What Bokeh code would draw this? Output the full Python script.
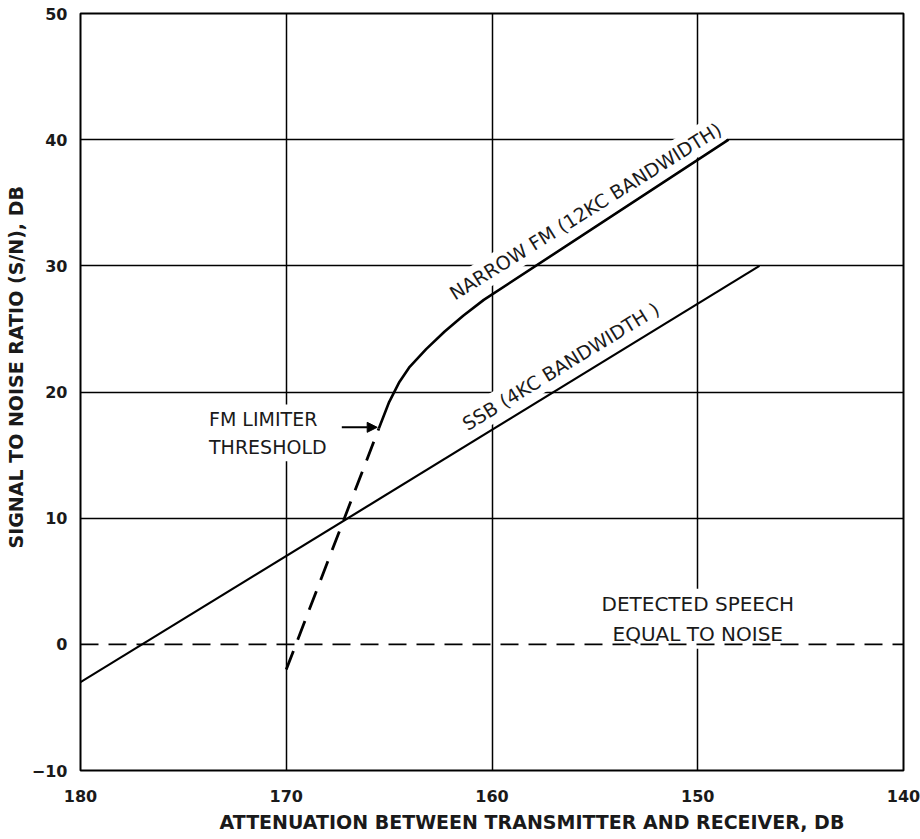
from bokeh.plotting import figure
from bokeh.models import Range1d, FixedTicker, Label, Arrow, NormalHead, Title
from bokeh.embed import file_html
from bokeh.resources import INLINE

# ---- data ----
x_ticks = [180, 170, 160, 150, 140]
y_ticks = [-10, 0, 10, 20, 30, 40, 50]
x_grid = [170, 160, 150]
y_grid = [10, 20, 30, 40]

ssb_x = [180, 147]
ssb_y = [-3, 30]

fm_dash_x = [170, 165.5]
fm_dash_y = [-2, 17.1]

fm_x = [165.5, 165.0, 164.5, 164.0, 163.2, 162.3, 161.4, 160.4, 148.5]
fm_y = [17.1, 19.2, 20.8, 22.0, 23.4, 24.8, 26.05, 27.3, 40.0]

noise_x = [180, 140]
noise_y = [0, 0]

x_title = "ATTENUATION BETWEEN TRANSMITTER AND RECEIVER, DB"
y_title = "SIGNAL TO NOISE RATIO (S/N), DB"

fm_label = "NARROW FM (12KC BANDWIDTH)"
fm_label_pos = (155.1, 33.4)
ssb_label = "SSB (4KC BANDWIDTH )"
ssb_label_pos = (156.3, 21.1)
thr_label = "FM LIMITER\nTHRESHOLD"
thr_label_pos = (173.9, 19.0)
noise_label = "DETECTED SPEECH\nEQUAL TO NOISE"
noise_label_pos = (150, 4.4)
arrow_start_x = 167.3

FONT = "DejaVu Sans"
INK = "#1a1a1a"

p = figure(frame_width=823, frame_height=757,
           x_range=Range1d(180, 140), y_range=Range1d(-10, 50),
           output_backend="svg", toolbar_location=None,
           min_border_left=80, min_border_top=13, min_border_right=17,
           min_border_bottom=10)
p.background_fill_color = "white"
p.border_fill_color = "white"
p.outline_line_color = "black"
p.outline_line_width = 2

for ax, ticks in ((p.xaxis[0], x_ticks), (p.yaxis[0], y_ticks)):
    ax.ticker = FixedTicker(ticks=ticks)
    ax.major_tick_line_color = None
    ax.minor_tick_line_color = None
    ax.axis_line_color = None
    ax.major_label_text_font = FONT
    ax.major_label_text_font_size = "16px"
    ax.major_label_text_font_style = "bold"
    ax.major_label_text_color = INK
p.xaxis[0].major_label_standoff = 13
p.yaxis[0].major_label_standoff = 7

p.xgrid[0].ticker = FixedTicker(ticks=x_grid)
p.ygrid[0].ticker = FixedTicker(ticks=y_grid)
for g in (p.xgrid[0], p.ygrid[0]):
    g.grid_line_color = "black"
    g.grid_line_width = 1.5
    g.grid_line_alpha = 1.0

p.add_layout(Title(text=x_title, align="left", offset=139, standoff=8,
                   text_font=FONT, text_font_size="19px", text_font_style="bold",
                   text_color=INK), "below")
p.add_layout(Title(text=y_title, align="left", offset=222, standoff=3,
                   text_font=FONT, text_font_size="19px", text_font_style="bold",
                   text_color=INK), "left")

# labels with white backgrounds (break the grid lines like the original)
def add_label(text, pos, size, align="center", baseline="bottom", angle=0, lh=1.2):
    lab = Label(x=pos[0], y=pos[1], text=text, text_font=FONT, text_font_size=size,
                text_color=INK, text_align=align, text_baseline=baseline,
                angle=angle, angle_units="deg", background_fill_color="white",
                padding=3, text_line_height=lh, level="underlay")
    p.add_layout(lab)

add_label(fm_label, fm_label_pos, "19px", angle=32)
add_label(ssb_label, ssb_label_pos, "19px", angle=31.5)
add_label(thr_label, thr_label_pos, "19px", align="left", baseline="top", lh=1.3)
add_label(noise_label, noise_label_pos, "20px", align="center", baseline="top", lh=1.25)

# lines
p.line(noise_x, noise_y, line_color="black", line_width=1.6, line_dash="18 10")
p.line(ssb_x, ssb_y, line_color="black", line_width=2.2)
p.line(fm_dash_x, fm_dash_y, line_color="black", line_width=2.8, line_dash="20 12")
p.line(fm_x, fm_y, line_color="black", line_width=2.6)

p.add_layout(Arrow(x_start=arrow_start_x, y_start=fm_dash_y[-1] + 0.1,
                   x_end=fm_dash_x[-1] + 0.08, y_end=fm_dash_y[-1] + 0.1,
                   line_color="black", line_width=2,
                   end=NormalHead(size=10, fill_color="black", line_color="black")))

open("out.html", "w").write(file_html(p, INLINE))
